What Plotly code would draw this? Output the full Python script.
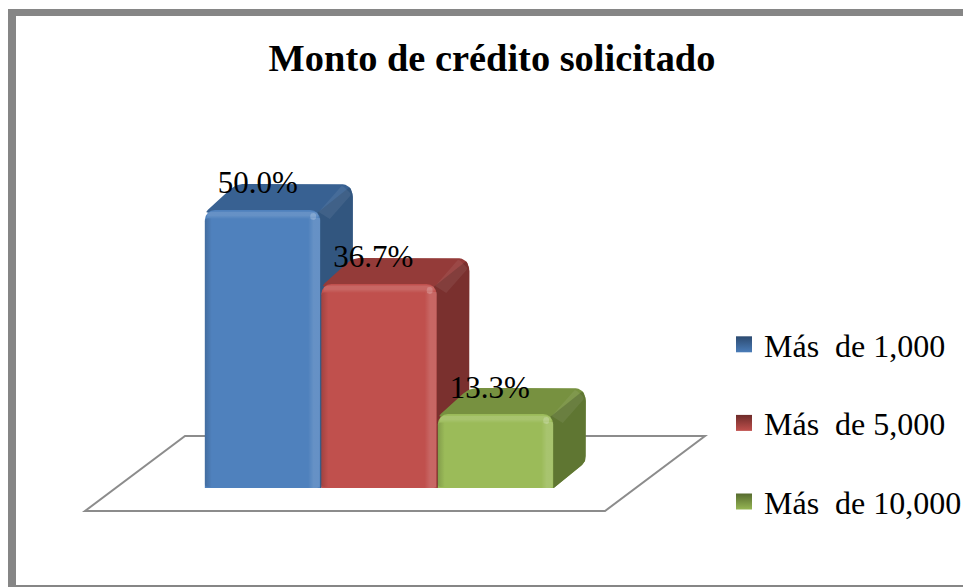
import plotly.graph_objects as go

categories = ["Más  de 1,000", "Más  de 5,000", "Más  de 10,000"]
values = [50.0, 36.7, 13.3]
front_colors = ["#4f81bd", "#c0504d", "#9bbb59"]
top_colors = ["#386192", "#943b39", "#779140"]
side_colors = ["#32567f", "#7a302e", "#5f7632"]
swatch_light = ["#4a7cb8", "#c0504d", "#96b654"]
swatch_dark = ["#2c4a70", "#6e2b29", "#566b2e"]
title = "Monto de crédito solicitado"

W, H = 963, 587
X_UNIT, Y_UNIT = 116.5, 5.56
X_ORIGIN, Y_ORIGIN = 262.5, 488
DEPTH_X, DEPTH_Y = 32 / X_UNIT, 26 / Y_UNIT
FONT = "Liberation Serif"
x_range = [-X_ORIGIN / X_UNIT, (W - X_ORIGIN) / X_UNIT]
y_range = [(Y_ORIGIN - H) / Y_UNIT, Y_ORIGIN / Y_UNIT]


def rounded(points, radius_px):
    """Round a polygon's corners; radius is given in screen pixels."""
    out_x, out_y = [], []
    n = len(points)
    for k in range(n):
        (ax, ay), (bx, by), (cx, cy) = points[k - 1], points[k], points[(k + 1) % n]
        r = radius_px[k]
        def toward(px, py):
            dx, dy = (px - bx) * X_UNIT, (py - by) * Y_UNIT
            d = (dx * dx + dy * dy) ** 0.5
            t = min(r / d, 0.5) if d else 0
            return bx + (px - bx) * t, by + (py - by) * t
        s, e = toward(ax, ay), toward(cx, cy)
        for j in range(9):
            t = j / 8
            out_x.append((1 - t) ** 2 * s[0] + 2 * t * (1 - t) * bx + t * t * e[0])
            out_y.append((1 - t) ** 2 * s[1] + 2 * t * (1 - t) * by + t * t * e[1])
    return out_x + out_x[:1], out_y + out_y[:1]


def face(points, radius_px, color, xa, ya, gradient=None):
    xs, ys = rounded(points, radius_px)
    kw = dict(fillcolor=color)
    if gradient:
        kw = dict(fillgradient=dict(type=gradient[0], colorscale=gradient[1]))
    return go.Scatter(x=xs, y=ys, mode="lines", fill="toself", line=dict(width=0),
                      hoverinfo="skip", showlegend=False, xaxis=xa, yaxis=ya, **kw)


W0, W15, K0, K15 = ("rgba(255,255,255,0)", "rgba(255,255,255,0.13)",
                    "rgba(0,0,0,0)", "rgba(0,0,0,0.16)")
fig = go.Figure()

# Legend entries
for i, name in enumerate(categories):
    fig.add_trace(go.Scatter(
        x=[None], y=[None], mode="markers", name=name, legendgroup=name,
        marker=dict(symbol="square", size=16, color=swatch_dark[i],
                    gradient=dict(type="vertical", color=swatch_light[i]),
                    line=dict(width=0)),
        xaxis="x", yaxis="y"))

bx = 1 / X_UNIT
by = 1 / Y_UNIT

# Each series sits on a pair of overlaid axes: depth faces, then the front bar
for i, v in enumerate(values):
    xa_b, ya_b = ("x", "y") if i == 0 else (f"x{2 * i + 1}", f"y{2 * i + 1}")
    xa_f, ya_f = f"x{2 * i + 2}", f"y{2 * i + 2}"
    x0, x1 = i - 0.5, i + 0.5
    xb, yb = x1 + DEPTH_X, v + DEPTH_Y
    # Depth silhouette in the top colour
    fig.add_trace(face([(x0, v - 3 * by), (x0 + DEPTH_X, yb), (xb, yb), (xb, DEPTH_Y), (x1, 0),
                        (x1 - 20 * bx, 0), (x1 - 20 * bx, v - 3 * by)],
                       [5, 8, 13, 6, 0, 0, 0], top_colors[i], xa_b, ya_b))
    # Side face inside the silhouette
    fig.add_trace(face([(x1 - 20 * bx, 0), (x1 - 20 * bx, v - 16 * by), (xb - 3 * bx, yb - 3 * by),
                        (xb, yb - 11 * by), (xb, DEPTH_Y), (x1, 0)],
                       [0, 0, 2, 2, 6, 0], side_colors[i], xa_b, ya_b))
    # Lit diagonal bevel where the top meets the side
    fig.add_trace(face([(x1 - 2 * bx, v - 2 * by), (xb - 11 * bx, yb - 1 * by),
                        (xb - 1 * bx, yb - 10 * by), (x1 + 9 * bx, v - 9 * by)],
                       [0, 3, 3, 0], "rgba(255,255,255,0.07)", xa_b, ya_b))
    fig.add_trace(go.Bar(x=[i], y=[v], width=0.99, name=categories[i], showlegend=False,
                         marker=dict(color=front_colors[i], line=dict(width=0), cornerradius=10),
                         hovertemplate="%{y:.1f}%<extra></extra>", xaxis=xa_f, yaxis=ya_f))
    xe0, xe1 = x0 + 0.005, x1 - 0.005
    fig.add_trace(face([(xe0, 0.2), (xe0, v - 1.5), (xe0 + 7 * bx, v - 1.5), (xe0 + 7 * bx, 0.2)],
                       [3, 3, 0, 0], "#000", xa_f, ya_f,
                       ("horizontal", [[0, K15], [1, K0]])))
    fig.add_trace(face([(xe1 - 12 * bx, 0), (xe1 - 12 * bx, v - 8 * by), (xe1, v - 8 * by), (xe1, 0)],
                       [0, 0, 0, 4], "#fff", xa_f, ya_f,
                       ("horizontal", [[0, W0], [0.45, W15], [1, W15]])))
    fig.add_trace(face([(xe0 + 2 * bx, v - 9 * by), (xe0 + 2 * bx, v - 0.3), (xe1 - 2 * bx, v - 0.3),
                        (xe1 - 2 * bx, v - 9 * by)],
                       [0, 6, 6, 0], "#fff", xa_f, ya_f,
                       ("vertical", [[0, W0], [0.5, W15], [1, W15]])))
    fig.add_trace(face([(xe1 - 10 * bx, v - 10 * by), (xe1 - 10 * bx, v - 3 * by),
                        (xe1 - 4 * bx, v - 3 * by), (xe1 - 4 * bx, v - 10 * by)],
                       [3, 3, 3, 3], "rgba(255,255,255,0.2)", xa_f, ya_f))

# Value labels, over every bar
label_dx = [-0.04, -0.05, -0.05]
label_dy = [4.5, 4.4, 4.25]
fig.add_trace(go.Scatter(
    x=[i + label_dx[i] for i in range(3)], y=[v + label_dy[i] for i, v in enumerate(values)],
    text=[f"{v:.1f}%" for v in values], mode="text", textposition="middle center",
    textfont=dict(family=FONT, size=31, color="#000"), hoverinfo="skip", showlegend=False,
    cliponaxis=False, xaxis="x6", yaxis="y6"))

axes = {}
for n in range(1, 7):
    sx = "" if n == 1 else str(n)
    ax = dict(range=x_range, visible=False, fixedrange=True, domain=[0, 1])
    ay = dict(range=y_range, visible=False, fixedrange=True, domain=[0, 1])
    if n > 1:
        ax.update(overlaying="x", anchor=f"y{sx}")
        ay.update(overlaying="y", anchor=f"x{sx}")
    axes[f"xaxis{sx}"] = ax
    axes[f"yaxis{sx}"] = ay


def rect(x0, y0, x1, y1, color="#868686"):
    return dict(type="rect", xref="paper", yref="paper", x0=x0 / W, x1=x1 / W,
                y0=1 - y0 / H, y1=1 - y1 / H, fillcolor=color, line=dict(width=0), layer="below")


floor = [(85, 511), (605, 511), (705, 436), (185, 436)]
floor_path = "M " + " L ".join(f"{px / W:.5f},{1 - py / H:.5f}" for px, py in floor) + " Z"
shapes = [
    rect(8, 9, W, 16), rect(8, 9, 16, H), rect(8, 585, W, H),
    dict(type="path", path=floor_path, xref="paper", yref="paper", fillcolor="#fff",
         line=dict(color="#8c8c8c", width=2), layer="below"),
]

fig.update_layout(
    width=W, height=H, margin=dict(l=0, r=0, t=0, b=0, autoexpand=False), autosize=False,
    paper_bgcolor="#fff", plot_bgcolor="rgba(0,0,0,0)", barmode="overlay", shapes=shapes,
    title=dict(text=title, x=492 / W, y=1 - 58 / H, xanchor="center", yanchor="middle",
               font=dict(family=FONT, size=38.4, color="#000", weight="bold")),
    legend=dict(x=724 / W, y=1 - 317 / H, xanchor="left", yanchor="top", orientation="v",
                bgcolor="rgba(0,0,0,0)", borderwidth=0, tracegroupgap=34, itemwidth=30,
                font=dict(family=FONT, size=32, color="#000")),
    showlegend=True, **axes)

fig.write_html("out.html", post_script="document.body.style.margin='0';",
               config={"displayModeBar": False})
